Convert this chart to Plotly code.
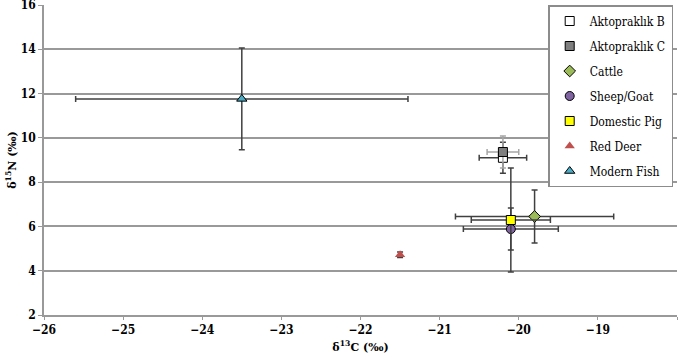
import plotly.graph_objects as go

names = ["Aktopraklık B", "Aktopraklık C", "Cattle", "Sheep/Goat", "Domestic Pig", "Red Deer", "Modern Fish"]
d13c = [-20.2, -20.2, -19.8, -20.1, -20.1, -21.5, -23.5]
d15n = [9.1, 9.36, 6.45, 5.88, 6.29, 4.72, 11.76]
d13c_err = [0.3, 0.2, 1.0, 0.6, 0.5, 0.0, 2.1]
d15n_err = [0.7, 0.72, 1.2, 0.95, 2.35, 0.12, 2.3]

symbols = ["square", "square", "diamond", "circle", "square", "triangle-up", "triangle-up"]
fills = ["#ffffff", "#7f7f7f", "#9bbb59", "#8064a2", "#ffff00", "#c0504d", "#4bacc6"]
lines = [1, 1, 1, 1, 1, 0, 1]
errcols = ["#404040", "#a6a6a6", "#404040", "#404040", "#404040", "#404040", "#404040"]
sizes = [9, 9, 9, 9, 9, 9, 9]

FS = "DejaVu Serif"
FL = "DejaVu Serif Condensed"
fig = go.Figure()
for i, n in enumerate(names):
    fig.add_trace(go.Scatter(
        x=[d13c[i]], y=[d15n[i]], mode="markers", name=n, legendgroup=n,
        marker=dict(symbol=symbols[i], size=sizes[i], color=fills[i],
                    line=dict(color="black", width=lines[i])),
        error_x=dict(type="data", array=[d13c_err[i]], color=errcols[i], thickness=1.5, width=3,
                     visible=d13c_err[i] > 0),
        error_y=dict(type="data", array=[d15n_err[i]], color=errcols[i], thickness=1.5, width=3),
    ))

fig.update_layout(
    width=685, height=357,
    margin=dict(l=44, r=8, t=5, b=42, autoexpand=False),
    paper_bgcolor="white", plot_bgcolor="white",
    font=dict(family=FS, color="black", size=12),
    showlegend=True,
    legend=dict(x=0.994, xanchor="right", y=1.0, yanchor="top",
                bordercolor="#8c8c8c", borderwidth=1.5, bgcolor="white",
                font=dict(family=FL, size=12, color="black"),
                traceorder="grouped", tracegroupgap=6, itemwidth=30),
    xaxis=dict(range=[-26, -18], dtick=1, tickmode="linear", showgrid=False, zeroline=False,
               automargin=False,
               showline=True, linecolor="#999999", linewidth=1.5,
               ticks="outside", ticklen=3, tickcolor="#999999",
               tickfont=dict(family=FL, size=12, color="black", weight="bold"),
               title=dict(text="δ<sup>13</sup>C (‰)", standoff=7,
                          font=dict(family=FS, size=11, color="black", weight="bold"))),
    yaxis=dict(range=[2, 16], dtick=2, tickmode="linear", showgrid=True, gridcolor="#999999",
               gridwidth=1.5, zeroline=False, automargin=False, ticklabeloverflow="allow",
               showline=True, linecolor="#999999", linewidth=1.5,
               ticks="outside", ticklen=4, tickcolor="#999999",
               tickfont=dict(family=FL, size=12, color="black", weight="bold"),
               title=dict(text="δ<sup>15</sup>N (‰)", standoff=2,
                          font=dict(family=FS, size=11, color="black", weight="bold"))),
)
fig.write_html("out.html", config={"displayModeBar": False},
               post_script="document.body.style.margin='0px';document.body.style.padding='0px';")
